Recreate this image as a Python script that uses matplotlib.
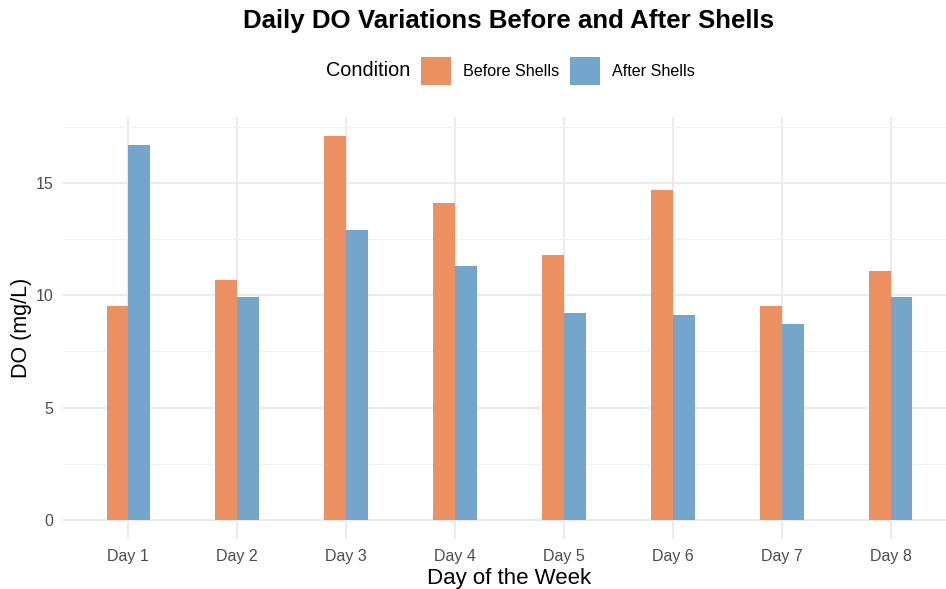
import matplotlib.pyplot as plt
import numpy as np
from matplotlib.patches import Patch

plt.rcParams['font.family'] = ['Liberation Sans', 'DejaVu Sans']

days = ['Day 1', 'Day 2', 'Day 3', 'Day 4', 'Day 5', 'Day 6', 'Day 7', 'Day 8']
before_shells = [9.5, 10.7, 17.1, 14.1, 11.8, 14.7, 9.5, 11.1]
after_shells = [16.7, 9.9, 12.9, 11.3, 9.2, 9.1, 8.7, 9.9]
conditions = ['Before Shells', 'After Shells']
colors = ['#EC9062', '#73A6CA']

fig = plt.figure(figsize=(9.46, 5.89), dpi=100)
# panel runs a bit past the right edge, as in the cropped original
ax = fig.add_axes([63 / 946, 1 - 539 / 589, 893 / 946, (539 - 116.6) / 589])

x = np.arange(1, len(days) + 1)
w = 0.2
ax.bar(x - w / 2, before_shells, width=w, color=colors[0], zorder=3)
ax.bar(x + w / 2, after_shells, width=w, color=colors[1], zorder=3)

ax.set_xlim(0.4, 8.6)
ax.set_ylim(-0.855, 17.955)
ax.set_xticks(x)
ax.set_xticklabels(days)
ax.set_yticks([0, 5, 10, 15])
ax.set_yticks([2.5, 7.5, 12.5, 17.5], minor=True)

ax.grid(which='major', color='#EBEBEB', linewidth=1.4, zorder=0)
ax.grid(which='minor', axis='y', color='#F2F2F2', linewidth=0.8, zorder=0)
for s in ax.spines.values():
    s.set_visible(False)
ax.tick_params(which='both', length=0, labelsize=11.5, labelcolor='#4D4D4D', pad=7)

ax.set_ylabel('DO (mg/L)', fontsize=15.5, color='black')
ax.yaxis.set_label_coords(-0.035, 0.5)
fig.text(509 / 946, 1 - 584 / 589, 'Day of the Week', fontsize=16,
         ha='center', va='baseline')

fig.text(508 / 946, 1 - 21 / 589, 'Daily DO Variations Before and After Shells',
         fontsize=18.6, fontweight='bold', ha='center', va='center')

fig.text(326 / 946, 1 - 71 / 589, 'Condition', fontsize=14.3, ha='left', va='center')
handles = [Patch(facecolor=c, edgecolor='none') for c in colors]
fig.legend(handles, conditions, loc='center left', bbox_to_anchor=(421 / 946, 1 - 71 / 589),
           ncol=2, frameon=False, fontsize=11.6, handlelength=1.86, handleheight=2.39,
           handletextpad=0.75, columnspacing=0.65, borderpad=0, borderaxespad=0)

fig.savefig('out.png', dpi=100)
